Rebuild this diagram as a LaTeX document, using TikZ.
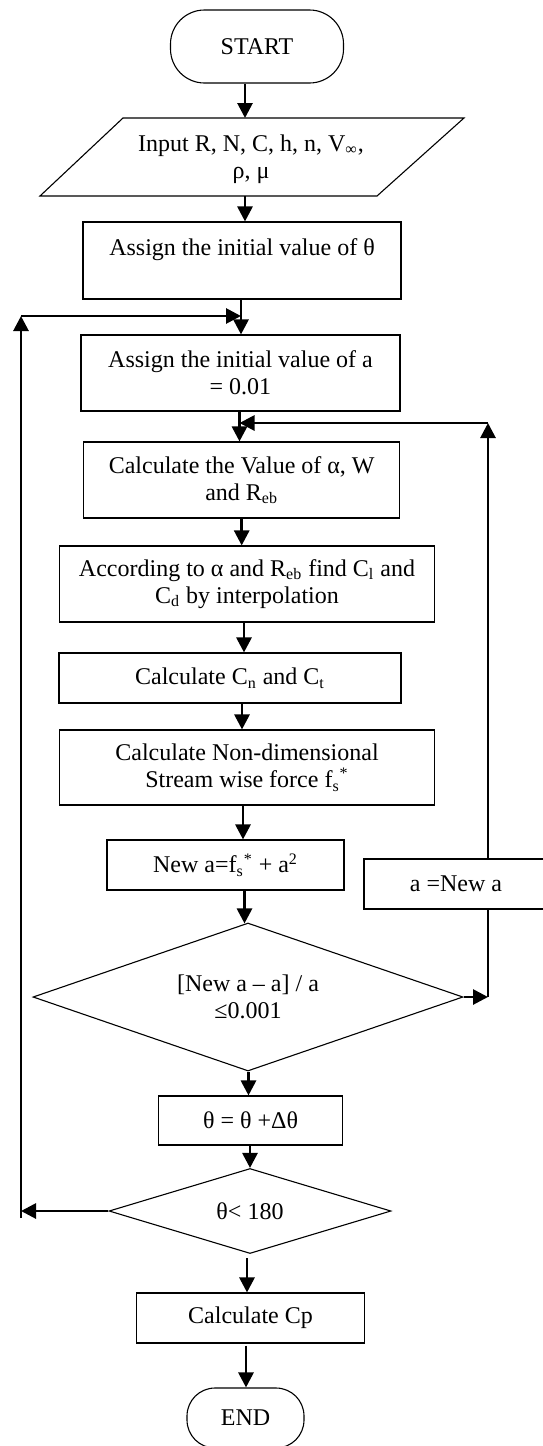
\documentclass[tikz,border=0pt]{standalone}
\usepackage{fontspec}
\setmainfont{Liberation Serif}
\usetikzlibrary{shapes.geometric,arrows.meta,calc}
\begin{document}
\begin{tikzpicture}[x=0.5pt,y=-0.5pt,
  font=\fontsize{12}{13.5}\selectfont,
  box/.style={draw,line width=0.55pt,rectangle,inner sep=0pt,align=center,fill=white},
  term/.style={box,rounded corners=#1},
  dec/.style={draw,line width=0.55pt,diamond,inner sep=0pt,align=center,aspect=3},
  arr/.style={line width=1.4pt,-{Triangle[length=7.5pt,width=7.5pt]}},
  ln/.style={line width=1.4pt}]
\useasboundingbox (0,0) rectangle (542,1446);

% terminals and boxes
\node[term=17pt,minimum width=86.5pt,minimum height=36.5pt] (start) at (257,46.5) {START};
\draw[line width=0.55pt] (123,118) -- (464,118) -- (377,196) -- (40,196) -- cycle;
\node[align=center,inner sep=0pt] (inp) at (251,159) {Input R, N, C, h, n, V\textsubscript{∞},\\ρ, μ};
\coordinate (inpT) at (245,118);
\coordinate (inpB) at (245,196);
\node[box,minimum width=159pt,minimum height=38.5pt] (b3) at (242,260.5) {Assign the initial value of θ\\~};
\node[box,minimum width=159.5pt,minimum height=38pt] (b4) at (240.5,373) {Assign the initial value of a\\= 0.01};
\node[box,minimum width=158pt,minimum height=38pt] (b5) at (241.7,480) {Calculate the Value of α, W\\and R\textsubscript{eb}};
\node[box,minimum width=187.5pt,minimum height=38pt] (b6) at (247,584) {According to α and R\textsubscript{eb} find C\textsubscript{l} and\\C\textsubscript{d} by interpolation};
\node[box,minimum width=171pt,minimum height=25pt] (b7) at (230,678) {Calculate C\textsubscript{n} and C\textsubscript{t}};
\node[box,minimum width=187.5pt,minimum height=37.5pt] (b8) at (247,767.5) {Calculate Non-dimensional\\Stream wise force f\textsubscript{s}\textsuperscript{*}};
\node[box,minimum width=118.5pt,minimum height=25pt] (b9) at (225.5,865) {New a=f\textsubscript{s}\textsuperscript{*} + a\textsuperscript{2}};
\node[dec,minimum width=215pt,minimum height=74pt] (d1) at (248,997) {[New a – a] / a\\≤0.001};
\node[box,minimum width=92pt,minimum height=24.5pt] (b11) at (250.5,1120.5) {θ = θ +Δθ};
\node[dec,minimum width=141pt,minimum height=42.5pt] (d2) at (250,1211) {θ< 180};
\node[box,minimum width=114pt,minimum height=25pt] (b12) at (250.5,1318) {Calculate Cp};
\node[term=14pt,minimum width=58.5pt,minimum height=30pt] (end) at (245.5,1418) {END};

% main flow
\draw[arr] (start.south -| inpT) -- (inpT);
\draw[arr] (inpB) -- (inpB |- b3.north);
\coordinate (a34) at ([xshift=-0.5pt]b3.south);
\draw[arr] (a34) -- (a34 |- b4.north);
\coordinate (a45) at ([xshift=-0.5pt]b4.south);
\draw[arr] (a45) -- (a45 |- b5.north);
\coordinate (a56) at (b5.south);
\draw[arr] (a56) -- (a56 |- b6.north);
\coordinate (a67) at ([xshift=-1.5pt]b6.south);
\draw[arr] (a67) -- (a67 |- b7.north);
\coordinate (a78) at ([xshift=6pt]b7.south);
\draw[arr] (a78) -- (a78 |- b8.north);
\coordinate (a89) at ([xshift=-2pt]b8.south);
\draw[arr] (a89) -- (a89 |- b9.north);
\coordinate (a9d) at ([xshift=9.5pt]b9.south);
\draw[arr] (a9d) -- ([yshift=-0.5pt]a9d |- d1.north);
\coordinate (ad11) at ([xshift=0.25pt]d1.south);
\draw[arr] (ad11) -- (ad11 |- b11.north);
\coordinate (a11d) at ([xshift=-0.25pt]b11.south);
\draw[arr] (a11d) -- (a11d |- d2.north);
\coordinate (ad12) at ([xshift=-1.5pt,yshift=-2pt]d2.south);
\draw[arr] (ad12) -- (ad12 |- b12.north);
\coordinate (a12e) at ([xshift=-2.25pt,yshift=-1pt]b12.south);
\draw[arr] (a12e) -- (a12e |- end.north);

% outer loop (theta)
\coordinate (Lb) at (21,1218);
\coordinate (Lt) at (21,316);
\draw[arr] (d2.west) -- (d2.west -| Lb);
\draw[arr] (Lb) -- (Lt);
\draw[arr] (Lt) -- (Lt -| a34);

% inner loop (a)
\node[box,minimum width=92pt,minimum height=25pt] (b10) at (456,884) {a =New a};
\coordinate (Rt) at (488,423);
\draw[arr] (d1.east) -- (d1.east -| Rt);
\draw[ln] (d1.east -| Rt) -- (b10.south -| Rt);
\draw[arr] (b10.north -| Rt) -- (Rt);
\draw[arr] (Rt) -- (Rt -| a45);
\end{tikzpicture}
\end{document}
